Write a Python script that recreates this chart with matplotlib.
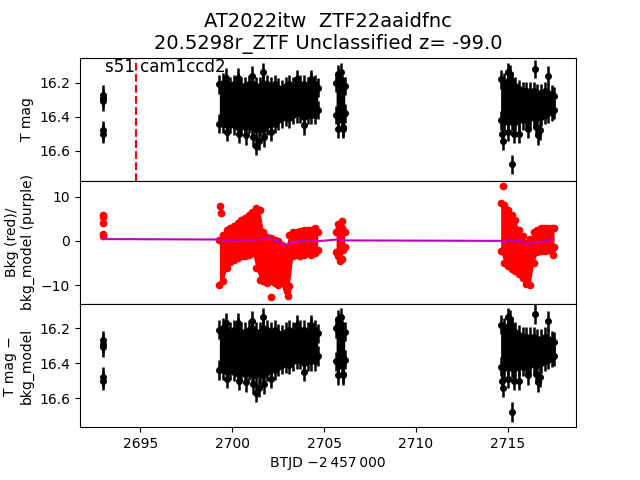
import numpy as np
import matplotlib
matplotlib.use('Agg')
import matplotlib.pyplot as plt

# early isolated points
iso_t = [2692.96, 2692.97, 2692.97, 2692.96, 2692.97]
iso_mag = [16.27, 16.29, 16.31, 16.48, 16.50]
iso_bkg = [5.9, 5.3, 4.1, 1.6, 1.0]

# dense segments: bright / faint edges of the light-curve band
s1_t = [2699.3, 2699.5, 2699.7, 2699.9, 2700.1, 2700.3, 2700.5, 2700.7, 2700.9,
        2701.1, 2701.3, 2701.5, 2701.7, 2701.9, 2702.1, 2702.3, 2702.5, 2702.7,
        2702.9, 2703.1, 2703.3, 2703.5, 2703.7, 2703.9, 2704.1, 2704.3, 2704.5,
        2704.65]
s1_bright = [16.21, 16.20, 16.21, 16.22, 16.21, 16.20, 16.22, 16.22, 16.21,
             16.20, 16.22, 16.22, 16.20, 16.21, 16.22, 16.21, 16.23, 16.24,
             16.22, 16.21, 16.22, 16.21, 16.21, 16.21, 16.22, 16.20, 16.21,
             16.23]
s1_faint = [16.44, 16.44, 16.45, 16.44, 16.45, 16.46, 16.45, 16.46, 16.44,
            16.46, 16.47, 16.46, 16.47, 16.45, 16.44, 16.44, 16.42, 16.41,
            16.40, 16.41, 16.39, 16.38, 16.38, 16.40, 16.39, 16.39, 16.39,
            16.36]
s1_bkg_hi = [0.2, 1.3, 2.5, 2.8, 3.3, 4.0, 4.8, 5.1, 5.9, 6.6, 7.4, 7.0, 2.1,
             0.9, 0.6, 0.2, -0.1, -0.9, -1.3, 1.3, 2.1, 2.1, 2.2, 2.5, 2.5,
             2.5, 2.8, 2.1]
s1_bkg_lo = [-9.9, -9.2, -6.2, -4.7, -4.3, -3.9, -3.5, -3.5, -3.2, -2.8, -6.2,
             -8.8, -9.2, -9.6, -9.2, -9.6, -9.9, -9.6, -10.7, -10.3, -3.5,
             -3.2, -3.5, -3.2, -2.8, -3.2, -2.8, -2.0]

s2_t = [2705.65, 2705.75, 2705.85, 2705.95, 2706.05, 2706.12]
s2_bright = [16.20, 16.19, 16.21, 16.21, 16.22, 16.22]
s2_faint = [16.39, 16.40, 16.38, 16.40, 16.37, 16.38]
s2_bkg_hi = [2.0, 2.5, 3.0, 2.8, 2.5, 2.0]
s2_bkg_lo = [-2.5, -3.5, -4.5, -4.0, -2.0, -1.5]

s3_t = [2714.6, 2714.8, 2715.0, 2715.2, 2715.4, 2715.6, 2715.8, 2716.0,
        2716.2, 2716.4, 2716.6, 2716.8, 2717.0, 2717.2, 2717.4, 2717.5]
s3_bright = [16.18, 16.20, 16.19, 16.19, 16.22, 16.24, 16.25, 16.25, 16.25,
             16.25, 16.26, 16.26, 16.25, 16.26, 16.27, 16.28]
s3_faint = [16.42, 16.43, 16.42, 16.43, 16.43, 16.42, 16.42, 16.41, 16.41,
            16.40, 16.41, 16.40, 16.39, 16.38, 16.37, 16.36]
s3_bkg_hi = [8.5, 8.2, 7.0, 5.8, 4.7, 2.5, 1.0, -0.5, 0.5, 2.0, 2.5, 2.8,
             2.8, 2.8, 3.0, 2.8]
s3_bkg_lo = [-2.4, -5.0, -5.8, -6.4, -6.9, -7.5, -8.5, -9.8, -10.0, -5.0,
             -2.5, -2.2, -2.2, -2.0, -2.0, -1.5]

# single points sticking out of the band
out_t = [2699.65, 2700.3, 2701.05, 2701.7, 2703.55, 2704.3, 2699.7, 2700.35,
         2700.75, 2701.15, 2701.3, 2701.45, 2701.75, 2703.9, 2702.1,
         2705.75, 2705.9, 2705.75, 2706.0, 2706.05,
         2714.75, 2714.65, 2715.0, 2715.35, 2715.6, 2716.1, 2716.5, 2716.65,
         2716.75, 2715.0, 2715.1, 2715.23, 2716.47, 2717.19]
out_mag = [16.17, 16.17, 16.16, 16.14, 16.18, 16.18, 16.49, 16.50,
           16.51, 16.52, 16.57, 16.54, 16.52, 16.45, 16.49,
           16.15, 16.14, 16.47, 16.47, 16.46,
           16.54, 16.50, 16.49, 16.50, 16.50, 16.47, 16.46, 16.51,
           16.48, 16.14, 16.15, 16.68, 16.12, 16.16]
out_bkg_t = [2699.35, 2699.38, 2702.1, 2703.0, 2703.02, 2705.74, 2705.99,
             2714.71, 2717.45]
out_bkg = [8.0, 6.3, -12.8, -11.4, -12.6, 3.8, 4.4, 12.5, -3.1]

# background model
model_t = [2692.97, 2699.3, 2699.5, 2699.8, 2700.2, 2700.6, 2701.0, 2701.4,
           2701.8, 2702.0, 2702.2, 2702.5, 2702.8, 2703.0, 2703.2, 2703.6,
           2704.0, 2704.6, 2705.7, 2706.1, 2714.6, 2714.8, 2715.0, 2715.3,
           2715.6, 2715.8, 2716.0, 2716.2, 2716.5, 2716.8, 2717.1, 2717.3,
           2717.5]
model_bkg = [0.4, 0.3, 0.0, 0.1, 0.0, 0.2, 0.1, 0.3, 0.4, 0.8, 0.2, -0.1,
             -0.9, -0.9, -0.3, -0.1, 0.0, -0.1, 0.3, 0.1, 0.0, -0.5, 0.2,
             -0.1, 0.1, -0.1, -0.9, -0.5, -0.3, -0.2, 0.0, 0.3, 0.3]

sector_t = 2694.76
err = 0.055

segs = [(s1_t, s1_bright, s1_faint, s1_bkg_hi, s1_bkg_lo),
        (s2_t, s2_bright, s2_faint, s2_bkg_hi, s2_bkg_lo),
        (s3_t, s3_bright, s3_faint, s3_bkg_hi, s3_bkg_lo)]


def draw_mag(ax):
    kw = dict(fmt='o', color='k', ms=4, elinewidth=1.8, capsize=0)
    for t, b, f, _, _ in segs:
        ax.fill_between(t, b, f, color='k', lw=0)
        ax.errorbar(t, b, yerr=err, **kw)
        ax.errorbar(t, f, yerr=err, **kw)
    ax.errorbar(out_t, out_mag, yerr=err, **kw)
    ax.errorbar(iso_t, iso_mag, yerr=err, **kw)


fig, axs = plt.subplots(3, 1, sharex=True, figsize=(6.4, 4.8), dpi=100)
plt.subplots_adjust(hspace=0)
ax1, ax2, ax3 = axs

draw_mag(ax1)
ax1.set_ylim(16.776, 16.053)
ax1.set_yticks([16.2, 16.4, 16.6])
ax1.set_ylabel('T mag')
ax1.axvline(sector_t, color='r', ls='--', lw=1.5)
ax1.text(2693.1, 16.053, 's51 cam1ccd2', fontsize=12, va='top')
ax1.set_title('AT2022itw  ZTF22aaidfnc\n20.5298r_ZTF Unclassified z= -99.0',
              fontsize=14)

for t, _, _, hi, lo in segs:
    ax2.fill_between(t, hi, lo, color='r', lw=0)
    ax2.plot(t, hi, 'o', color='r', ms=4.5)
    ax2.plot(t, lo, 'o', color='r', ms=4.5)
ax2.plot(iso_t, iso_bkg, 'o', color='r', ms=4.5)
ax2.plot(out_bkg_t, out_bkg, 'o', color='r', ms=4.5)
ax2.plot(model_t, model_bkg, '-', color='m', lw=1.5)
ax2.set_ylim(-14.3, 13.6)
ax2.set_yticks([-10, 0, 10])
ax2.set_ylabel('Bkg (red)/\nbkg_model (purple)')

draw_mag(ax3)
ax3.set_ylim(16.766, 16.063)
ax3.set_yticks([16.2, 16.4, 16.6])
ax3.set_ylabel('T mag \u2212\nbkg_model')
ax3.set_xlim(2691.72, 2718.7)
ax3.set_xticks([2695, 2700, 2705, 2710, 2715])
ax3.set_xlabel('BTJD \u22122\u2009457\u2009000')

plt.savefig('out.png', dpi=100)
